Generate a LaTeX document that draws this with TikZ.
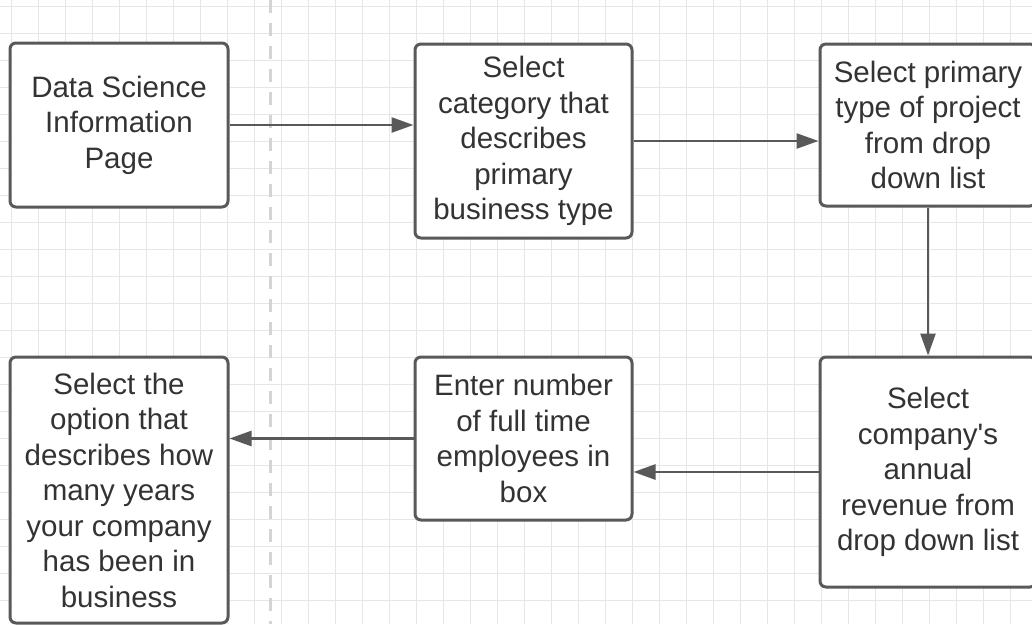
\documentclass[tikz,border=0pt]{standalone}
\usepackage{fontspec}
\newfontfamily\lsans{Liberation Sans}
\usetikzlibrary{arrows.meta}
\definecolor{gridc}{HTML}{E6E6E6}
\definecolor{dashc}{HTML}{D4D4D4}
\definecolor{boxc}{HTML}{595959}
\definecolor{txtc}{HTML}{333333}
\tikzset{
  stepbox/.style={draw=boxc, line width=3pt, rounded corners=6pt, fill=white,
    align=center, text=txtc, inner sep=0pt,
    font=\lsans\fontsize{29.5}{35.5}\selectfont},
  flow/.style={draw=boxc, line width=2.5pt, -{Triangle[length=22pt,width=15pt]}}
}
\begin{document}
\begin{tikzpicture}[x=1pt,y=-1pt]
\useasboundingbox (0,0) rectangle (1032,624);
\clip (0,0) rectangle (1032,624);
\fill[white] (0,0) rectangle (1032,624);
% grid
\foreach \i in {0,...,38} {\draw[gridc, line width=1pt] ({11+27*\i},0) -- ({11+27*\i},624);}
\foreach \j in {0,...,23} {\draw[gridc, line width=1pt] (0,{6+27*\j}) -- (1032,{6+27*\j});}
% dashed separator
\draw[dashc, line width=3pt, dash pattern=on 13pt off 10pt] (270,0) -- (270,624);
% boxes
\node[stepbox, minimum width=218pt, minimum height=164pt] (b1) at (119,125)
  {Data Science\\Information\\Page};
\node[stepbox, minimum width=217pt, minimum height=194pt] (b2) at (523.5,141)
  {Select\\category that\\describes\\primary\\business type};
\node[stepbox, minimum width=216pt, minimum height=162pt] (b3) at (928,125)
  {Select primary\\type of project\\from drop\\down list};
\node[stepbox, minimum width=216pt, minimum height=230pt] (b4) at (928,472)
  {Select\\company's\\annual\\revenue from\\drop down list};
\node[stepbox, minimum width=217pt, minimum height=163pt] (b5) at (523.5,438.5)
  {Enter number\\of full time\\employees in\\box};
\node[stepbox, minimum width=218pt, minimum height=266pt] (b6) at (119,490)
  {Select the\\option that\\describes how\\many years\\your company\\has been in\\business};
% connectors
\draw[flow] (b1.east) -- (b1.east -| b2.west);
\draw[flow] (b2.east) -- (b2.east -| b3.west);
\draw[flow] (b3.south) -- (b4.north);
\draw[flow] (b4.west) -- (b4.west -| b5.east);
\draw[flow] (b5.west) -- (b5.west -| b6.east);
\end{tikzpicture}
\end{document}
